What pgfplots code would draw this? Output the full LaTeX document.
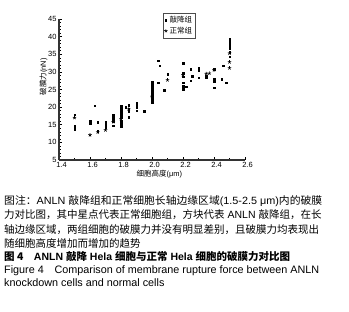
\documentclass[border=0pt]{standalone}
\usepackage{fontspec}
\setmainfont{Liberation Sans}
\newfontfamily\cjk{Noto Sans CJK SC}
\usepackage{graphicx}
\usepackage{pgfplots}
\pgfplotsset{compat=1.18}
\begin{document}
\begin{tikzpicture}
\useasboundingbox (0,0) rectangle (349bp,312bp);
\begin{axis}[
  at={(59bp,152bp)}, anchor=south west,
  scale only axis, width=186bp, height=141bp,
  xmin=1.4, xmax=2.6, ymin=5, ymax=45,
  axis x line=bottom, axis y line=left,
  axis line style={-, line width=1.3bp, black!80},
  xtick={1.4,1.6,...,2.6}, ytick={5,10,...,45},
  xticklabels={1.4,1.6,1.8,2.0,2.2,2.4,2.6},
  minor x tick num=1, minor y tick num=4,
  tick align=inside, major tick length=3bp, minor tick length=1.5bp,
  tick style={black, line width=0.5bp},
  /pgf/number format/assume math mode=true,
  tick label style={font=\fontsize{7.5bp}{9bp}\selectfont},
  xticklabel style={xshift=2.5bp, yshift=1bp},
  yticklabel style={xshift=1bp},
  xlabel={{\cjk 细胞高度}(μm)},
  ylabel={{\cjk 破膜力}(nN)},
  label style={font=\fontsize{7.5bp}{9bp}\selectfont},
  xlabel style={at={(axis description cs:0.54,0)}, anchor=north, yshift=-7bp},
  ylabel style={at={(axis description cs:0,0.59)}, anchor=south, yshift=8bp},
  legend style={at={(axis description cs:0.559,1.043)}, anchor=north west,
    draw=black!70, line width=0.5bp, font=\fontsize{7.5bp}{8.5bp}\selectfont\cjk,
    inner sep=1bp, row sep=-1bp, cells={anchor=west}},
  legend cell align=left,
  clip=false,
]
\addplot[only marks, mark=square*, mark size=0.8bp, black] coordinates {
(1.5,17.9) (1.5,14.6) (1.5,14.1) (1.5,13.6)
(1.6,16.0) (1.6,15.5)
(1.63,20.4)
(1.65,15.8) (1.65,13.1)
(1.7,15.7) (1.7,15.1) (1.7,14.3)
(1.75,17.9) (1.75,17.4) (1.75,16.9) (1.75,16.0) (1.75,14.7)
(1.8,20.4) (1.8,19.9) (1.8,19.3) (1.8,18.7) (1.8,18.1) (1.8,17.5) (1.8,17.0) (1.8,16.0) (1.8,15.4) (1.8,14.8) (1.8,14.4)
(1.83,20.0)
(1.85,20.5) (1.85,19.6) (1.85,18.9) (1.85,17.2)
(1.9,21.2) (1.9,20.7) (1.9,20.0) (1.9,19.0)
(1.95,18.8)
(2.0,27.0) (2.0,26.4) (2.0,25.8) (2.0,25.2) (2.0,24.6) (2.0,24.0) (2.0,23.4) (2.0,22.8) (2.0,22.3) (2.0,21.8) (2.0,21.3)
(2.04,33.2) (2.05,31.8) (2.04,26.9)
(2.08,24.8)
(2.1,29.4)
(2.2,32.4) (2.2,29.6) (2.2,28.6) (2.2,26.9) (2.2,26.0) (2.2,25.0)
(2.22,25.8)
(2.25,30.7) (2.25,27.5)
(2.26,28.8)
(2.3,31.1) (2.3,30.3) (2.3,28.4)
(2.35,28.8) (2.35,28.4)
(2.4,30.7) (2.4,27.9) (2.4,27.2) (2.4,25.5)
(2.46,31.7) (2.45,28.0)
(2.48,26.9)
(2.5,39.3) (2.5,38.7) (2.5,38.0) (2.5,37.3) (2.5,36.7) (2.5,35.5) (2.5,34.3)
};
\addlegendentry{敲降组}
\addplot[only marks, mark=star, mark size=1.8bp, black, line width=0.6bp] coordinates {
(1.5,17.0) (1.6,12.1) (1.65,12.9) (1.7,13.5) (1.75,15.8) (1.8,16.6) (1.85,19.4)
(2.0,23.0) (2.1,27.7) (2.2,29.1) (2.35,29.5) (2.37,29.6) (2.4,30.5)
(2.5,35.3) (2.5,32.8) (2.5,31.1)
};
\addlegendentry{正常组}
\end{axis}
\begin{scope}[every node/.style={anchor=base west, inner sep=0pt, font=\fontsize{10.5bp}{12bp}\selectfont}]
\node at (4bp,107.5bp) {\resizebox{318bp}{\height}{{\cjk 图注：}ANLN {\cjk 敲降组和正常细胞长轴边缘区域}(1.5-2.5 μm){\cjk 内的破膜}}};
\node at (4bp,93bp) {{\cjk 力对比图，其中星点代表正常细胞组，方块代表} ANLN {\cjk 敲降组，在长}};
\node at (4bp,78.7bp) {{\cjk 轴边缘区域，两组细胞的破膜力并没有明显差别，且破膜力均表现出}};
\node at (4bp,64.7bp) {{\cjk 随细胞高度增加而增加的趋势}};
\node at (4bp,51.3bp) {\bfseries{\cjk 图 4}\quad ANLN {\cjk 敲降} Hela {\cjk 细胞与正常} Hela {\cjk 细胞的破膜力对比图}};
\node[font=\fontsize{10.8bp}{12bp}\selectfont] at (4bp,39bp) {Figure 4\quad Comparison of membrane rupture force between ANLN};
\node[font=\fontsize{10.8bp}{12bp}\selectfont] at (4bp,25.6bp) {knockdown cells and normal cells};
\end{scope}
\end{tikzpicture}
\end{document}
